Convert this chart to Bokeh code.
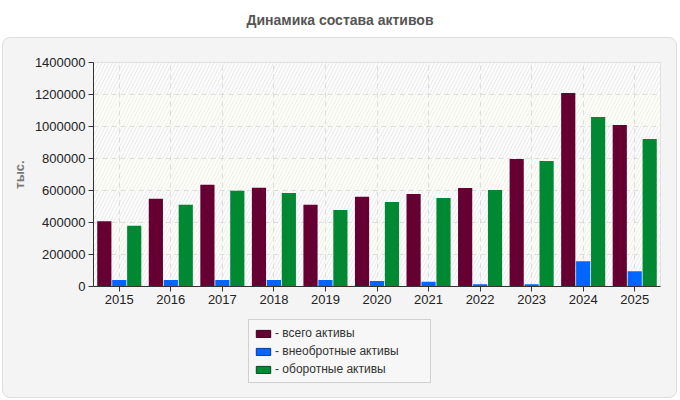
from bokeh.plotting import figure
from bokeh.models import (ColumnDataSource, FactorRange, FixedTicker, BasicTickFormatter,
                          BoxAnnotation, Legend, LegendItem, Div, Column)
from bokeh.transform import dodge
from bokeh.embed import file_html
from bokeh.resources import INLINE

years = ["2015", "2016", "2017", "2018", "2019", "2020", "2021", "2022", "2023", "2024", "2025"]
total_assets = [408000, 548000, 636000, 617000, 511000, 561000, 578000, 615000, 797000, 1210000, 1010000]
noncurrent_assets = [41000, 41000, 41000, 41000, 41000, 35000, 29000, 14000, 14000, 158000, 96000]
current_assets = [379000, 511000, 598000, 584000, 478000, 528000, 553000, 603000, 784000, 1060000, 922000]
y_ticks = [0, 200000, 400000, 600000, 800000, 1000000, 1200000, 1400000]

series_names = ["- всего активы", "- внеобротные активы", "- оборотные активы"]
colors = ["#660033", "#0066ff", "#008833"]
edge_colors = ["#3a001c", "#003c99", "#004d1c"]

FONT = "Liberation Sans"

src = ColumnDataSource(dict(year=years, total=total_assets,
                            noncurrent=noncurrent_assets, current=current_assets))

# main bar chart
p = figure(width=673, height=274, x_range=FactorRange(*years, range_padding=0),
           y_range=(0, 1400000), output_backend="svg", toolbar_location=None,
           min_border_left=90, min_border_right=16, min_border_top=24, min_border_bottom=26)
p.border_fill_alpha = 0
p.background_fill_color = "white"
p.outline_line_color = "#dddddd"

# alternating hatched bands in the plot area
for i in range(len(y_ticks) - 1):
    even = (len(y_ticks) - 2 - i) % 2 == 0
    band = BoxAnnotation(bottom=y_ticks[i], top=y_ticks[i + 1],
                         fill_color="#fafafa" if even else "#fbfcf3",
                         line_color=None, hatch_pattern="/",
                         hatch_color="#e9e9e9" if even else "#eeefe4",
                         hatch_scale=7, hatch_weight=1, level="image")
    p.add_layout(band)

offsets = [-0.29, 0.0, 0.29]
fields = ["total", "noncurrent", "current"]
for f, off, c in zip(fields, offsets, colors):
    p.vbar(x=dodge("year", off, range=p.x_range), top=f, width=0.275, source=src,
           fill_color=c, line_color=None)

# axes
p.yaxis.ticker = FixedTicker(ticks=y_ticks)
p.yaxis.formatter = BasicTickFormatter(use_scientific=False)
for ax in (p.xaxis[0], p.yaxis[0]):
    ax.axis_line_color = "#333333"
    ax.major_tick_line_color = "#333333"
    ax.major_tick_in = 0
    ax.major_tick_out = 5
    ax.minor_tick_line_color = None
    ax.major_label_text_font = FONT
    ax.major_label_text_font_size = "13px"
    ax.major_label_text_color = "#222222"
p.xaxis.major_label_standoff = 3
p.yaxis.major_label_standoff = 3
p.yaxis.axis_label = "тыс."
p.yaxis.axis_label_text_font = FONT
p.yaxis.axis_label_text_font_size = "13px"
p.yaxis.axis_label_text_font_style = "bold"
p.yaxis.axis_label_text_color = "#777777"
p.yaxis.axis_label_standoff = 5

p.xgrid.grid_line_color = "#dddddd"
p.xgrid.grid_line_dash = "5 4"
p.ygrid.grid_line_color = "#dddddd"
p.ygrid.grid_line_dash = "5 4"

# legend strip below the chart; the swatch renderers hold no drawable points
lg = figure(width=673, height=85, output_backend="svg", toolbar_location=None,
            min_border=0, x_range=(0, 1), y_range=(0, 1))
lg.border_fill_alpha = 0
lg.background_fill_alpha = 0
lg.outline_line_color = None
lg.axis.visible = False
lg.grid.visible = False

nan = float("nan")
items = []
for c, ec, name in zip(colors, edge_colors, series_names):
    swatch = lg.vbar(x=[nan], top=[nan], bottom=[nan], width=0.2,
                     fill_color=c, line_color=ec, line_width=1)
    items.append(LegendItem(label=name, renderers=[swatch]))

legend = Legend(items=items, location=(155, 14), orientation="vertical",
                background_fill_color="#f7f7f7", background_fill_alpha=1,
                border_line_color="#aaaaaa", border_line_width=1,
                label_text_font=FONT, label_text_font_size="12px", label_text_color="#333333",
                glyph_width=18, glyph_height=9, label_standoff=3, spacing=2,
                padding=5, margin=0, label_height=16, label_width=150)
lg.add_layout(legend, "center")

title = Div(text="Динамика состава активов", width=680, height=37, margin=0,
            styles={"font-family": FONT, "font-size": "14px", "font-weight": "bold",
                    "color": "#555555", "text-align": "center", "line-height": "40px"})

panel = Column(children=[p, lg], width=675, height=361, margin=(0, 0, 0, 2), spacing=0,
               styles={"background-color": "#f4f4f4", "border": "1px solid #dddddd",
                       "border-radius": "8px"})

page = Column(children=[title, panel], spacing=0, margin=0)

open("out.html", "w").write(file_html(page, INLINE))
